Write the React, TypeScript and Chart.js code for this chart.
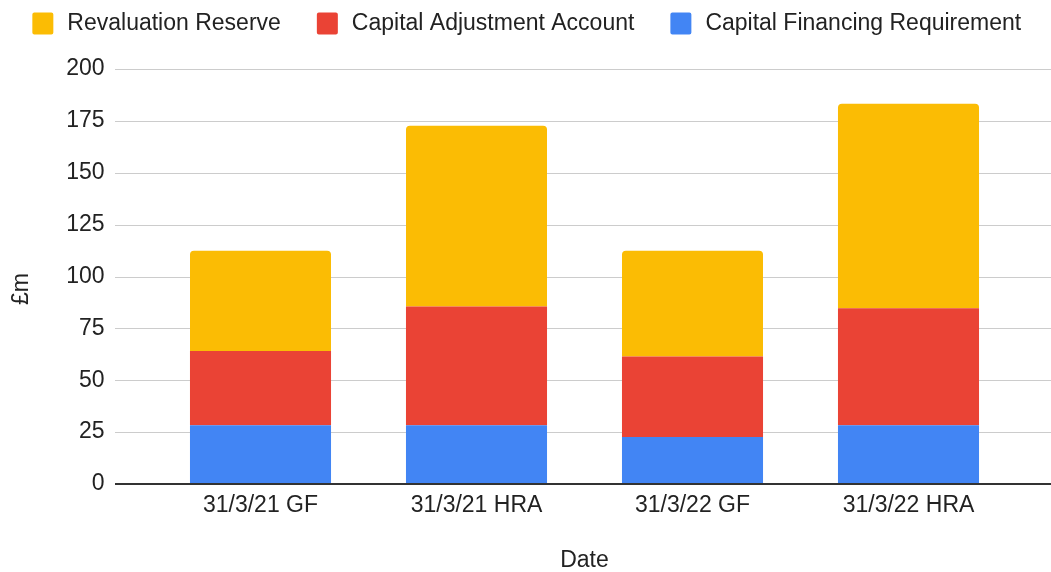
import React, { useEffect, useRef } from 'react';
import { Chart, registerables } from 'chart.js';

Chart.register(...registerables);

// ---- Data ----
const categories = ['31/3/21 GF', '31/3/21 HRA', '31/3/22 GF', '31/3/22 HRA'];
const capitalFinancingRequirement = [28.3, 28.3, 22.7, 28.3];
const capitalAdjustmentAccount = [35.8, 57.2, 38.7, 56.4];
const revaluationReserve = [48.3, 87.2, 51.0, 98.6];
const seriesNames = ['Capital Financing Requirement', 'Capital Adjustment Account', 'Revaluation Reserve'];
const seriesColors = ['#4285F4', '#EA4335', '#FBBC04'];
const yMin = 0;
const yMax = 200;
const yStep = 25;
const xTitle = 'Date';
const yTitle = '£m';

// ---- Styles / layout ----
const FONT = "'Liberation Sans', Arial, sans-serif";
const FONT_SIZE = 23;
const TEXT_COLOR = '#222222';
const GRID_COLOR = '#cccccc';
const BASE_COLOR = '#333333';
const GRID_LEFT = 115;
const Y_TITLE_X = 28;
const Y_TITLE_Y = 289;
const LEGEND_PAD = 33.5;
const LEGEND_TOP = 10;
const SIDE_PAD = -10;

const sheetPlugin = {
  id: 'sheetDecor',
  beforeDatasetsDraw(chart: any) {
    const { ctx } = chart;
    const y = chart.scales.y;
    ctx.save();
    ctx.strokeStyle = GRID_COLOR;
    ctx.lineWidth = 1;
    y.ticks.forEach((t: any) => {
      if (t.value === yMin) return;
      const py = Math.round(y.getPixelForValue(t.value)) + 0.5;
      ctx.beginPath();
      ctx.moveTo(GRID_LEFT, py);
      ctx.lineTo(chart.width, py);
      ctx.stroke();
    });
    ctx.restore();
  },
  afterDatasetsDraw(chart: any) {
    const { ctx } = chart;
    const y = chart.scales.y;
    const py = Math.round(y.getPixelForValue(yMin));
    ctx.save();
    ctx.strokeStyle = BASE_COLOR;
    ctx.lineWidth = 2;
    ctx.beginPath();
    ctx.moveTo(GRID_LEFT, py);
    ctx.lineTo(chart.width, py);
    ctx.stroke();
    ctx.restore();
  },
  afterDraw(chart: any) {
    const { ctx } = chart;
    ctx.save();
    ctx.font = `${FONT_SIZE}px ${FONT}`;
    ctx.fillStyle = TEXT_COLOR;
    ctx.translate(Y_TITLE_X, Y_TITLE_Y);
    ctx.rotate(-Math.PI / 2);
    ctx.textAlign = 'center';
    ctx.textBaseline = 'alphabetic';
    ctx.fillText(yTitle, 0, 0);
    ctx.restore();
  },
};

export default function App() {
  const canvasRef = useRef<HTMLCanvasElement | null>(null);

  useEffect(() => {
    if (!canvasRef.current) return;
    const values = [capitalFinancingRequirement, capitalAdjustmentAccount, revaluationReserve];
    const defaultLabels = (Chart as any).defaults.plugins.legend.labels.generateLabels;
    const chart = new Chart(canvasRef.current, {
      type: 'bar',
      data: {
        labels: categories,
        datasets: values.map((data, i) => ({
          label: seriesNames[i],
          data,
          backgroundColor: seriesColors[i],
          borderWidth: 0,
          borderRadius: i === 2 ? { topLeft: 4, topRight: 4, bottomLeft: 0, bottomRight: 0 } : 0,
          borderSkipped: 'start',
          barPercentage: 0.653,
          categoryPercentage: 1,
        })),
      },
      options: {
        responsive: false,
        animation: false,
        devicePixelRatio: 1,
        layout: { padding: { top: LEGEND_TOP - LEGEND_PAD, left: SIDE_PAD, right: SIDE_PAD, bottom: 0 } },
        plugins: {
          tooltip: { enabled: false },
          legend: {
            display: true,
            position: 'top',
            reverse: true,
            labels: {
              boxWidth: 26,
              boxHeight: 27,
              padding: LEGEND_PAD,
              color: TEXT_COLOR,
              useBorderRadius: true,
              borderRadius: 4.5,
              font: { family: FONT, size: FONT_SIZE },
              generateLabels(chart: any) {
                return defaultLabels(chart).map((item: any) => ({
                  ...item,
                  lineWidth: 5,
                  strokeStyle: '#ffffff',
                }));
              },
            },
          },
          title: {
            display: true,
            text: '',
            position: 'top',
            weight: 500,
            padding: { top: 6, bottom: 6 },
            font: { size: 10, lineHeight: 1 },
          },
        },
        scales: {
          x: {
            stacked: true,
            grid: { display: false, drawTicks: false },
            border: { display: false },
            ticks: { color: TEXT_COLOR, padding: 8, font: { family: FONT, size: FONT_SIZE } },
            title: {
              display: true,
              text: xTitle,
              color: TEXT_COLOR,
              padding: { top: 0, bottom: 0 },
              font: { family: FONT, size: FONT_SIZE, lineHeight: 1 },
            },
            afterFit(scale: any) {
              scale.height = 88;
              scale.paddingLeft = 0;
              scale.paddingRight = 34.5;
            },
          },
          y: {
            stacked: true,
            min: yMin,
            max: yMax,
            grid: { display: false, drawTicks: false },
            border: { display: false },
            ticks: {
              stepSize: yStep,
              color: TEXT_COLOR,
              padding: 48,
              font: { family: FONT, size: FONT_SIZE },
            },
            afterFit(scale: any) {
              scale.width = 152.5 - SIDE_PAD;
            },
          },
        },
      },
      plugins: [sheetPlugin],
    } as any);
    return () => chart.destroy();
  }, []);

  return (
    <div style={{ position: 'fixed', left: 0, top: 0, width: 1051, height: 572, background: '#ffffff' }}>
      <canvas ref={canvasRef} width={1051} height={572} style={{ display: 'block' }} />
    </div>
  );
}
